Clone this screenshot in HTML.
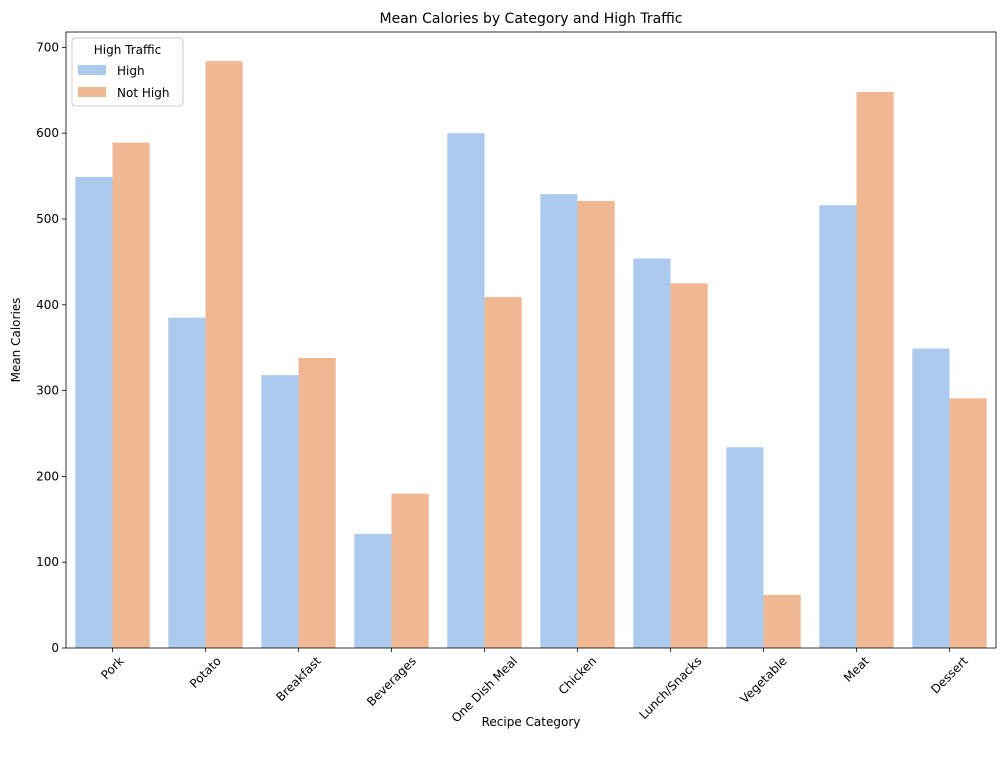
<!DOCTYPE html>
<html><head><meta charset="utf-8"><style>
body{margin:0;background:#fff;font-family:"Liberation Sans","DejaVu Sans",sans-serif}
svg text{font-family:"DejaVu Sans","Liberation Sans",sans-serif}
</style></head><body>
<svg id="chart" width="1005" height="768"></svg>
<script>
const categories=["Pork","Potato","Breakfast","Beverages","One Dish Meal","Chicken","Lunch/Snacks","Vegetable","Meat","Dessert"];
const highValues=[549,385,318,133,600,529,454,234,516,349];
const notHighValues=[589,684,338,180,409,521,425,62,648,291];
const yTicks=[0,100,200,300,400,500,600,700];
const svg=document.getElementById('chart');
const NS='http://www.w3.org/2000/svg';
const L=66,R=996,T=32,B=648;
const yScale=v=>B-v*(B-47.4)/700;
const band=(R-L)/categories.length;
const xCenter=i=>L+band*(i+0.5);
function mk(t,a,txt){const e=document.createElementNS(NS,t);for(const k in a)e.setAttribute(k,a[k]);if(txt!==undefined)e.textContent=txt;svg.appendChild(e);return e;}
const t=mk('text',{x:531,y:23,'text-anchor':'middle','font-size':14},'Mean Calories by Category and High Traffic');


const bw=band*0.4;
categories.forEach((c,i)=>{
  const cx=xCenter(i);
  const b1=mk('rect',{x:cx-bw,y:yScale(highValues[i]),width:bw,height:B-yScale(highValues[i]),fill:'#abcaee'});
  
  
  const b2=mk('rect',{x:cx,y:yScale(notHighValues[i]),width:bw,height:B-yScale(notHighValues[i]),fill:'#f0b892'});
  
  
  mk('line',{x1:cx,x2:cx,y1:B,y2:B+4,stroke:'#000','stroke-width':0.8});
  const lb=mk('text',{'font-size':12,'text-anchor':'middle','dominant-baseline':'central'},c);
  
  
  const w=lb.getComputedTextLength();
  const hh=(w+11)*0.7071;
  const cy=B+7+hh/2;
  lb.setAttribute('x',cx);lb.setAttribute('y',cy);
  lb.setAttribute('transform',`rotate(-45 ${cx} ${cy})`);
});
yTicks.forEach(v=>{
  const y=yScale(v);
  mk('line',{x1:L-4,x2:L,y1:y,y2:y,stroke:'#000','stroke-width':0.8});
  const lb=mk('text',{x:L-7,y:y+4,'font-size':12,'text-anchor':'end'},v);
  
  
});
mk('rect',{x:L,y:T,width:R-L,height:B-T,fill:'none',stroke:'#000','stroke-width':0.8});
const xt=mk('text',{x:531,y:726,'text-anchor':'middle','font-size':12},'Recipe Category');


const yt=mk('text',{'font-size':12,'text-anchor':'middle',transform:`translate(20,340) rotate(-90)`},'Mean Calories');


const lg=mk('rect',{x:72,y:38,width:111,height:68,rx:3,fill:'#fff','fill-opacity':0.8,stroke:'#ccc'});


mk('text',{x:127.5,y:54,'text-anchor':'middle','font-size':12},'High Traffic');
mk('rect',{x:78,y:65,width:28,height:10,fill:'#abcaee'});
const le1=mk('text',{x:117,y:75,'font-size':12},'High');


mk('rect',{x:78,y:87,width:28,height:10,fill:'#f0b892'});
const le2=mk('text',{x:117,y:97,'font-size':12},'Not High');


</script>
</body></html>
